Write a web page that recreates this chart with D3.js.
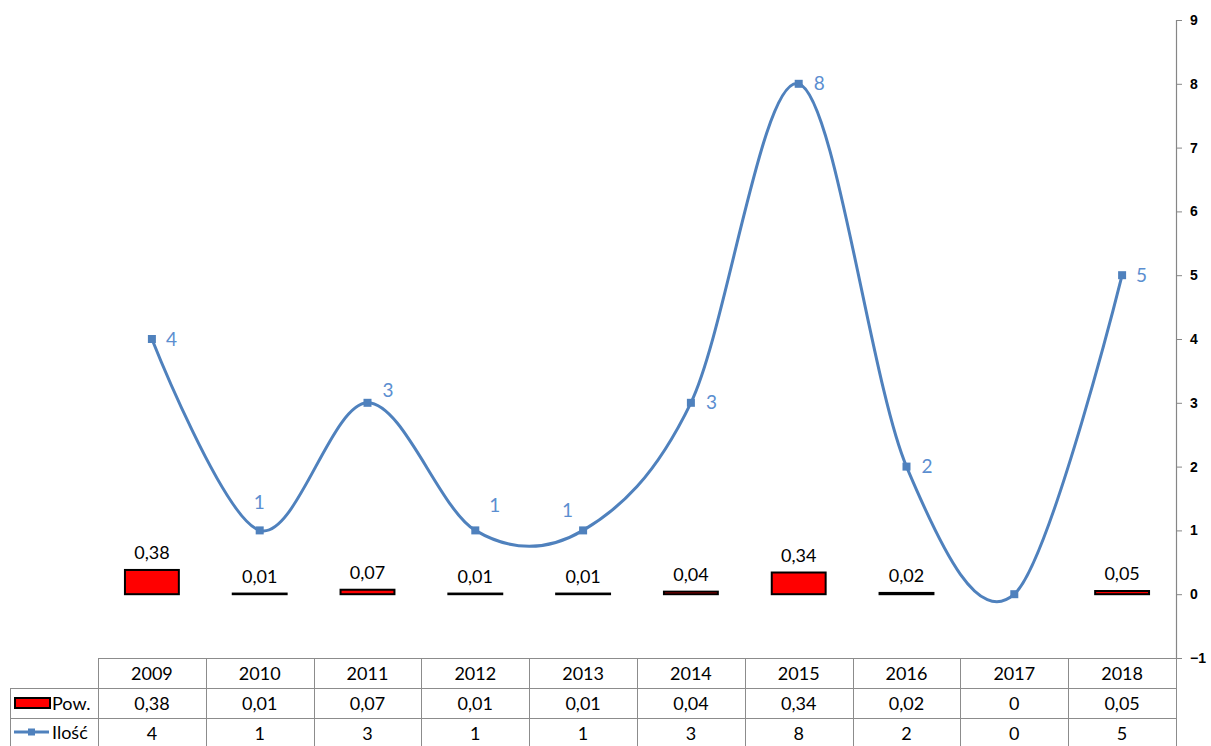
<!DOCTYPE html>
<html>
<head>
<meta charset="utf-8">
<script src="https://cdn.jsdelivr.net/npm/d3@7/dist/d3.min.js"></script>
<style>
  html, body { margin: 0; padding: 0; background: #fff; }
  svg { display: block; font-family: Lato, "Open Sans", sans-serif; }
  .axis-right .tick text { font-family: "Liberation Sans", Arial, sans-serif; font-size: 14px; font-weight: 700; fill: #000; }
</style>
</head>
<body>
<svg id="chart" width="1211" height="746"></svg>
<script>
// Yearly figures: area (Pow.) and count (Ilość)
const years = ["2009", "2010", "2011", "2012", "2013", "2014", "2015", "2016", "2017", "2018"];
const powValues = [0.38, 0.01, 0.07, 0.01, 0.01, 0.04, 0.34, 0.02, 0, 0.05];
const iloscValues = [4, 1, 3, 1, 1, 3, 8, 2, 0, 5];
const powLabels = ["0,38", "0,01", "0,07", "0,01", "0,01", "0,04", "0,34", "0,02", "0", "0,05"];
const axisTicks = [-1, 0, 1, 2, 3, 4, 5, 6, 7, 8, 9];
const seriesNames = ["Pow.", "Ilość"];

// Placement of the count labels around each marker (dx, dy, visible)
const countLabelOffsets = [
  [14, 0, true], [-6, -28, true], [15, -12, true], [14, -25, true], [-21, -20, true],
  [15, 0, true], [15, 0, true], [15, 0, true], [0, 0, false], [14, 0, true]
];

const svg = d3.select("#chart");
const plotLeft = 98, plotRight = 1176, plotTop = 20, plotBottom = 658;
const fmt = v => String(v).replace(".", ",");

const x = d3.scaleBand().domain(years).range([plotLeft, plotRight]);
const y = d3.scaleLinear().domain([-1, 9]).range([plotBottom, plotTop]);

const lineBlue = "#4F81BD";
const labelBlue = "#5B8ED0";
const textSize = "18px";

// Right-hand value axis
const axis = d3.axisRight(y).tickValues(axisTicks).tickSize(6).tickPadding(8).tickFormat(d3.format("d"));
const ag = svg.append("g").attr("class", "axis-right")
  .attr("transform", `translate(${plotRight},0)`).call(axis);
ag.attr("font-family", null).attr("font-size", null);
ag.select(".domain").attr("stroke", "#868686").attr("stroke-width", 1.2);
ag.selectAll(".tick line").attr("stroke", "#868686");
ag.selectAll(".tick text").attr("x", 14);

// Bars for area
const barW = x.bandwidth() * 0.5;
const barData = years.map((yr, i) => ({ yr, v: powValues[i], label: powLabels[i] }));
svg.append("g").selectAll("rect")
  .data(barData.filter(d => d.v > 0))
  .join("rect")
  .attr("x", d => x(d.yr) + (x.bandwidth() - barW) / 2)
  .attr("width", barW)
  .attr("y", d => y(d.v))
  .attr("height", d => y(0) - y(d.v))
  .attr("fill", "#FF0000")
  .attr("stroke", "#000")
  .attr("stroke-width", 2);

svg.append("g").selectAll("text")
  .data(barData.filter(d => d.v > 0))
  .join("text")
  .attr("x", d => x(d.yr) + x.bandwidth() / 2)
  .attr("y", d => y(d.v) - 11)
  .attr("text-anchor", "middle")
  .style("font-size", textSize)
  .attr("fill", "#000")
  .text(d => d.label);

// Smoothed line for counts
const pts = years.map((yr, i) => ({ yr, v: iloscValues[i], off: countLabelOffsets[i] }));
const line = d3.line()
  .x(d => x(d.yr) + x.bandwidth() / 2)
  .y(d => y(d.v))
  .curve(d3.curveCardinal.tension(0));
svg.append("path")
  .datum(pts)
  .attr("d", line)
  .attr("fill", "none")
  .attr("stroke", lineBlue)
  .attr("stroke-width", 3);

svg.append("g").selectAll("rect")
  .data(pts)
  .join("rect")
  .attr("x", d => x(d.yr) + x.bandwidth() / 2 - 4)
  .attr("y", d => y(d.v) - 4)
  .attr("width", 8).attr("height", 8)
  .attr("fill", lineBlue);

svg.append("g").selectAll("text")
  .data(pts.filter(d => d.off[2]))
  .join("text")
  .attr("x", d => x(d.yr) + x.bandwidth() / 2 + d.off[0])
  .attr("y", d => y(d.v) + d.off[1])
  .attr("dy", "0.35em")
  .style("font-size", "19px")
  .attr("fill", labelBlue)
  .text(d => fmt(d.v));

// Data table under the plot
const rowH = 30;
const tableTop = plotBottom;
const legendLeft = 10;
const tbl = svg.append("g");
const gridColor = "#8c8c8c";

// Horizontal rules
[0, 1, 2].forEach(r => {
  tbl.append("line")
    .attr("x1", r === 0 ? plotLeft : legendLeft).attr("x2", plotRight)
    .attr("y1", tableTop + r * rowH + 0.5).attr("y2", tableTop + r * rowH + 0.5)
    .attr("stroke", gridColor).attr("stroke-width", 1);
});
// Vertical rules
years.forEach(yr => {
  tbl.append("line")
    .attr("x1", Math.round(x(yr)) + 0.5).attr("x2", Math.round(x(yr)) + 0.5)
    .attr("y1", tableTop).attr("y2", 746)
    .attr("stroke", gridColor);
});
tbl.append("line")
  .attr("x1", plotRight + 0.5).attr("x2", plotRight + 0.5)
  .attr("y1", tableTop).attr("y2", 746).attr("stroke", gridColor);
tbl.append("line")
  .attr("x1", legendLeft + 0.5).attr("x2", legendLeft + 0.5)
  .attr("y1", tableTop + rowH).attr("y2", 746).attr("stroke", gridColor);

// Header row and value rows
const rows = [years, powLabels, iloscValues.map(fmt)];
rows.forEach((row, r) => {
  tbl.append("g").selectAll("text")
    .data(row)
    .join("text")
    .attr("x", (d, i) => x(years[i]) + x.bandwidth() / 2)
    .attr("y", tableTop + r * rowH + rowH / 2 + 1)
    .attr("dy", "0.35em")
    .attr("text-anchor", "middle")
    .style("font-size", textSize)
    .attr("fill", "#000")
    .text(d => d);
});

// Legend keys inside the table
const k1 = tableTop + rowH + rowH / 2;
tbl.append("rect")
  .attr("x", 15).attr("y", k1 - 5).attr("width", 35).attr("height", 10)
  .attr("fill", "#FF0000").attr("stroke", "#000").attr("stroke-width", 2);
tbl.append("text")
  .attr("x", 52).attr("y", k1 + 1).attr("dy", "0.35em")
  .style("font-size", textSize).attr("fill", "#000").text(seriesNames[0]);

const k2 = tableTop + 2 * rowH + rowH / 2 - 1;
tbl.append("line")
  .attr("x1", 14).attr("x2", 49).attr("y1", k2).attr("y2", k2)
  .attr("stroke", lineBlue).attr("stroke-width", 3);
tbl.append("rect")
  .attr("x", 28).attr("y", k2 - 3.5).attr("width", 7).attr("height", 7).attr("fill", lineBlue);
tbl.append("text")
  .attr("x", 52).attr("y", k2 + 1).attr("dy", "0.35em")
  .style("font-size", textSize).attr("fill", "#000").text(seriesNames[1]);
</script>
</body>
</html>
